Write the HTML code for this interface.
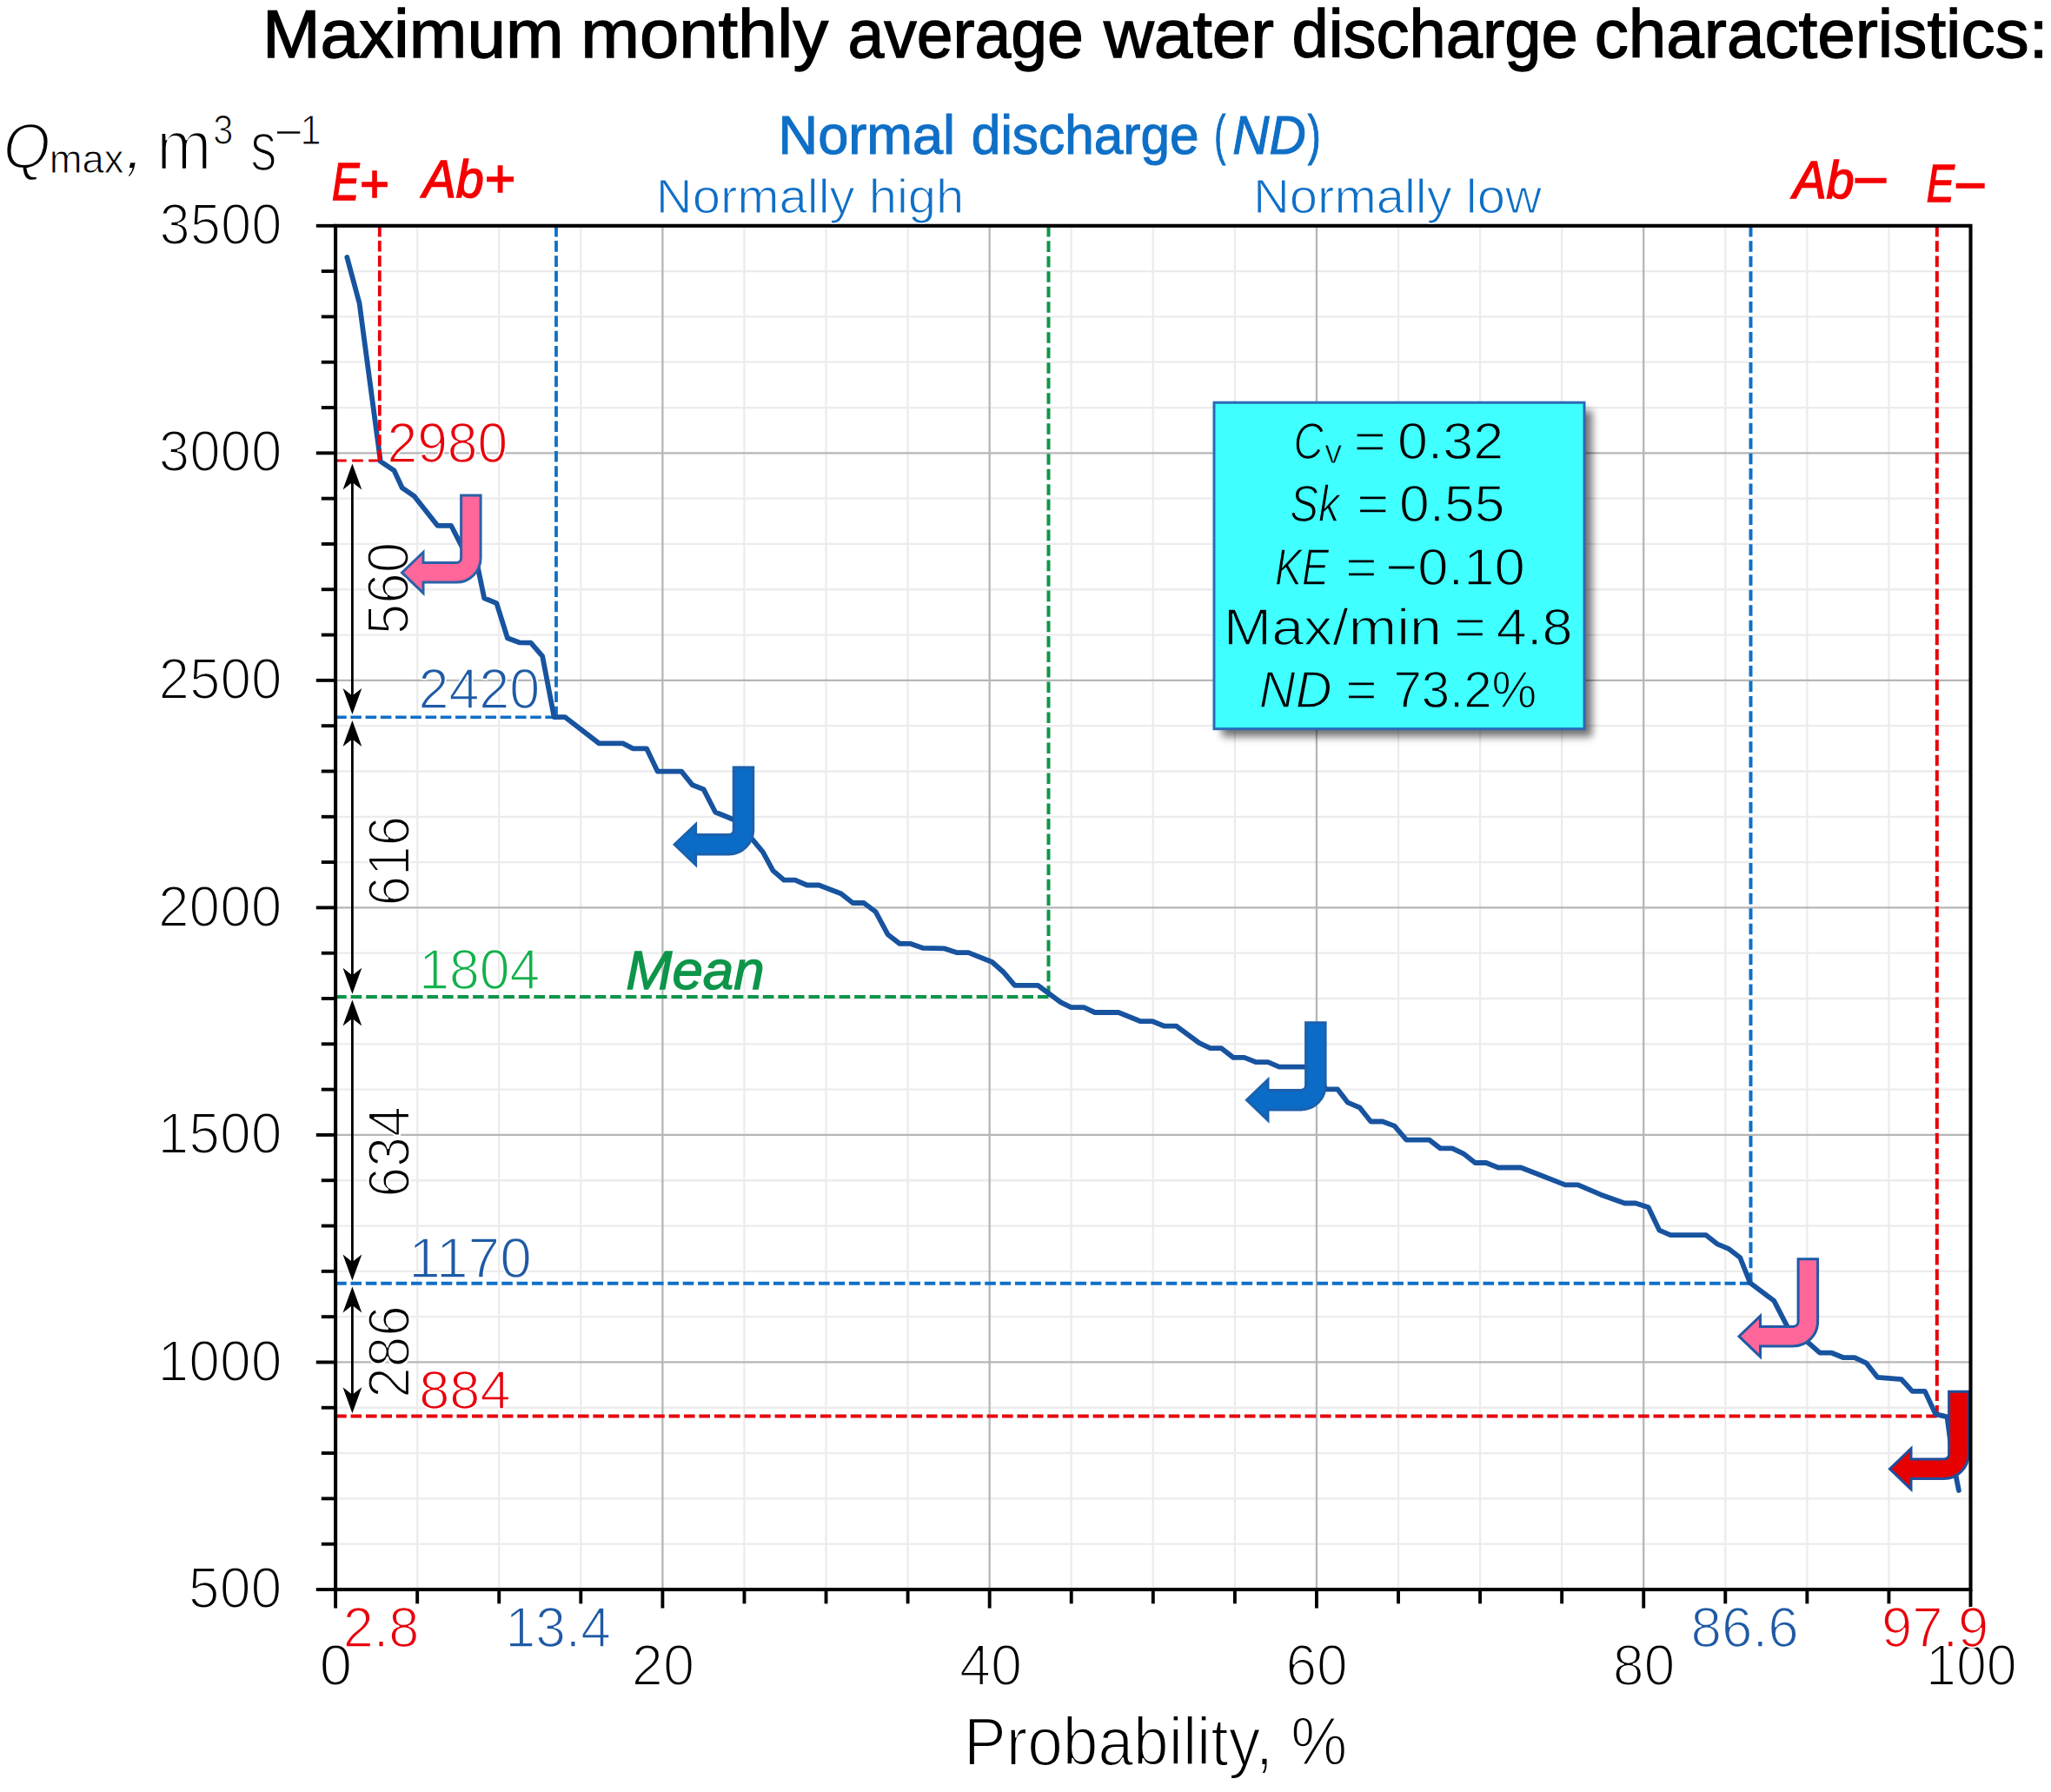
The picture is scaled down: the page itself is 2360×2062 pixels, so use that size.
<!DOCTYPE html>
<html lang="en"><head><meta charset="utf-8"><title>Maximum monthly average water discharge characteristics</title>
<style>
html,body{margin:0;padding:0;background:#fff}
svg{display:block}
text{font-family:"Liberation Sans",sans-serif;white-space:pre}
</style></head><body>
<svg width="2360" height="2062" viewBox="0 0 2360 2062">
<defs><filter id="sh" x="-10%" y="-10%" width="120%" height="120%"><feGaussianBlur stdDeviation="5"/></filter></defs>
<rect width="2360" height="2062" fill="#fff"/>
<g id="grid">
<line x1="480.17" y1="259.8" x2="480.17" y2="1829.0" stroke="#ececec" stroke-width="2.3"/>
<line x1="574.24" y1="259.8" x2="574.24" y2="1829.0" stroke="#ececec" stroke-width="2.3"/>
<line x1="668.31" y1="259.8" x2="668.31" y2="1829.0" stroke="#ececec" stroke-width="2.3"/>
<line x1="856.45" y1="259.8" x2="856.45" y2="1829.0" stroke="#ececec" stroke-width="2.3"/>
<line x1="950.52" y1="259.8" x2="950.52" y2="1829.0" stroke="#ececec" stroke-width="2.3"/>
<line x1="1044.59" y1="259.8" x2="1044.59" y2="1829.0" stroke="#ececec" stroke-width="2.3"/>
<line x1="1232.73" y1="259.8" x2="1232.73" y2="1829.0" stroke="#ececec" stroke-width="2.3"/>
<line x1="1326.80" y1="259.8" x2="1326.80" y2="1829.0" stroke="#ececec" stroke-width="2.3"/>
<line x1="1420.87" y1="259.8" x2="1420.87" y2="1829.0" stroke="#ececec" stroke-width="2.3"/>
<line x1="1609.01" y1="259.8" x2="1609.01" y2="1829.0" stroke="#ececec" stroke-width="2.3"/>
<line x1="1703.08" y1="259.8" x2="1703.08" y2="1829.0" stroke="#ececec" stroke-width="2.3"/>
<line x1="1797.15" y1="259.8" x2="1797.15" y2="1829.0" stroke="#ececec" stroke-width="2.3"/>
<line x1="1985.29" y1="259.8" x2="1985.29" y2="1829.0" stroke="#ececec" stroke-width="2.3"/>
<line x1="2079.36" y1="259.8" x2="2079.36" y2="1829.0" stroke="#ececec" stroke-width="2.3"/>
<line x1="2173.43" y1="259.8" x2="2173.43" y2="1829.0" stroke="#ececec" stroke-width="2.3"/>
<line x1="386.1" y1="1776.69" x2="2267.5" y2="1776.69" stroke="#ececec" stroke-width="2.3"/>
<line x1="386.1" y1="1724.39" x2="2267.5" y2="1724.39" stroke="#ececec" stroke-width="2.3"/>
<line x1="386.1" y1="1672.08" x2="2267.5" y2="1672.08" stroke="#ececec" stroke-width="2.3"/>
<line x1="386.1" y1="1619.77" x2="2267.5" y2="1619.77" stroke="#ececec" stroke-width="2.3"/>
<line x1="386.1" y1="1515.16" x2="2267.5" y2="1515.16" stroke="#ececec" stroke-width="2.3"/>
<line x1="386.1" y1="1462.85" x2="2267.5" y2="1462.85" stroke="#ececec" stroke-width="2.3"/>
<line x1="386.1" y1="1410.55" x2="2267.5" y2="1410.55" stroke="#ececec" stroke-width="2.3"/>
<line x1="386.1" y1="1358.24" x2="2267.5" y2="1358.24" stroke="#ececec" stroke-width="2.3"/>
<line x1="386.1" y1="1253.63" x2="2267.5" y2="1253.63" stroke="#ececec" stroke-width="2.3"/>
<line x1="386.1" y1="1201.32" x2="2267.5" y2="1201.32" stroke="#ececec" stroke-width="2.3"/>
<line x1="386.1" y1="1149.01" x2="2267.5" y2="1149.01" stroke="#ececec" stroke-width="2.3"/>
<line x1="386.1" y1="1096.71" x2="2267.5" y2="1096.71" stroke="#ececec" stroke-width="2.3"/>
<line x1="386.1" y1="992.09" x2="2267.5" y2="992.09" stroke="#ececec" stroke-width="2.3"/>
<line x1="386.1" y1="939.79" x2="2267.5" y2="939.79" stroke="#ececec" stroke-width="2.3"/>
<line x1="386.1" y1="887.48" x2="2267.5" y2="887.48" stroke="#ececec" stroke-width="2.3"/>
<line x1="386.1" y1="835.17" x2="2267.5" y2="835.17" stroke="#ececec" stroke-width="2.3"/>
<line x1="386.1" y1="730.56" x2="2267.5" y2="730.56" stroke="#ececec" stroke-width="2.3"/>
<line x1="386.1" y1="678.25" x2="2267.5" y2="678.25" stroke="#ececec" stroke-width="2.3"/>
<line x1="386.1" y1="625.95" x2="2267.5" y2="625.95" stroke="#ececec" stroke-width="2.3"/>
<line x1="386.1" y1="573.64" x2="2267.5" y2="573.64" stroke="#ececec" stroke-width="2.3"/>
<line x1="386.1" y1="469.03" x2="2267.5" y2="469.03" stroke="#ececec" stroke-width="2.3"/>
<line x1="386.1" y1="416.72" x2="2267.5" y2="416.72" stroke="#ececec" stroke-width="2.3"/>
<line x1="386.1" y1="364.41" x2="2267.5" y2="364.41" stroke="#ececec" stroke-width="2.3"/>
<line x1="386.1" y1="312.11" x2="2267.5" y2="312.11" stroke="#ececec" stroke-width="2.3"/>
<line x1="762.38" y1="259.8" x2="762.38" y2="1829.0" stroke="#b6b6b6" stroke-width="2.3"/>
<line x1="1138.66" y1="259.8" x2="1138.66" y2="1829.0" stroke="#b6b6b6" stroke-width="2.3"/>
<line x1="1514.94" y1="259.8" x2="1514.94" y2="1829.0" stroke="#b6b6b6" stroke-width="2.3"/>
<line x1="1891.22" y1="259.8" x2="1891.22" y2="1829.0" stroke="#b6b6b6" stroke-width="2.3"/>
<line x1="386.1" y1="1567.47" x2="2267.5" y2="1567.47" stroke="#b6b6b6" stroke-width="2.3"/>
<line x1="386.1" y1="1305.93" x2="2267.5" y2="1305.93" stroke="#b6b6b6" stroke-width="2.3"/>
<line x1="386.1" y1="1044.40" x2="2267.5" y2="1044.40" stroke="#b6b6b6" stroke-width="2.3"/>
<line x1="386.1" y1="782.87" x2="2267.5" y2="782.87" stroke="#b6b6b6" stroke-width="2.3"/>
<line x1="386.1" y1="521.33" x2="2267.5" y2="521.33" stroke="#b6b6b6" stroke-width="2.3"/>
</g>
<g id="box">
<rect x="1397.0" y="463.2" width="426.0" height="375.50000000000006" fill="#000" opacity="0.55" filter="url(#sh)" transform="translate(9,9)"/>
<rect x="1397.0" y="463.2" width="426.0" height="375.50000000000006" fill="#40ffff" stroke="#2a6ab5" stroke-width="3"/>
<text x="1488.50" y="528.19" font-size="60.0" fill="#000" textLength="34.24" lengthAdjust="spacingAndGlyphs" font-style="italic" stroke="#40ffff" stroke-width="1.38">C</text>
<text x="1524.26" y="532.84" font-size="38.3" fill="#000" textLength="20.08" lengthAdjust="spacingAndGlyphs" stroke="#40ffff" stroke-width="0.88">v</text>
<text x="1557.89" y="528.19" font-size="60.0" fill="#000" textLength="37.11" lengthAdjust="spacingAndGlyphs" stroke="#40ffff" stroke-width="1.38">=</text>
<text x="1607.96" y="528.19" font-size="60.0" fill="#000" textLength="122.20" lengthAdjust="spacingAndGlyphs" stroke="#40ffff" stroke-width="1.38">0.32</text>
<text x="1484.26" y="599.99" font-size="60.0" fill="#000" textLength="57.32" lengthAdjust="spacingAndGlyphs" font-style="italic" stroke="#40ffff" stroke-width="1.38">Sk</text>
<text x="1561.30" y="599.99" font-size="60.0" fill="#000" textLength="36.99" lengthAdjust="spacingAndGlyphs" stroke="#40ffff" stroke-width="1.38">=</text>
<text x="1609.97" y="599.99" font-size="60.0" fill="#000" textLength="121.50" lengthAdjust="spacingAndGlyphs" stroke="#40ffff" stroke-width="1.38">0.55</text>
<text x="1466.91" y="672.69" font-size="60.0" fill="#000" textLength="62.27" lengthAdjust="spacingAndGlyphs" font-style="italic" stroke="#40ffff" stroke-width="1.38">KE</text>
<text x="1548.35" y="672.69" font-size="60.0" fill="#000" textLength="36.39" lengthAdjust="spacingAndGlyphs" stroke="#40ffff" stroke-width="1.38">=</text>
<text x="1594.30" y="672.69" font-size="60.0" fill="#000" textLength="160.49" lengthAdjust="spacingAndGlyphs" stroke="#40ffff" stroke-width="1.38">−0.10</text>
<text x="1407.79" y="742.49" font-size="60.0" fill="#000" textLength="251.11" lengthAdjust="spacingAndGlyphs" stroke="#40ffff" stroke-width="1.38">Max/min</text>
<text x="1673.35" y="742.49" font-size="60.0" fill="#000" textLength="36.39" lengthAdjust="spacingAndGlyphs" stroke="#40ffff" stroke-width="1.38">=</text>
<text x="1721.89" y="742.49" font-size="60.0" fill="#000" textLength="87.53" lengthAdjust="spacingAndGlyphs" stroke="#40ffff" stroke-width="1.38">4.8</text>
<text x="1448.87" y="813.99" font-size="60.0" fill="#000" textLength="83.66" lengthAdjust="spacingAndGlyphs" font-style="italic" stroke="#40ffff" stroke-width="1.38">ND</text>
<text x="1548.35" y="813.99" font-size="60.0" fill="#000" textLength="36.39" lengthAdjust="spacingAndGlyphs" stroke="#40ffff" stroke-width="1.38">=</text>
<text x="1603.40" y="813.99" font-size="60.0" fill="#000" textLength="164.91" lengthAdjust="spacingAndGlyphs" stroke="#40ffff" stroke-width="1.38">73.2%</text>
</g>
<g id="dashes">
<line x1="386.10" y1="530.00" x2="436.80" y2="530.00" stroke="#e8000c" stroke-width="3" stroke-dasharray="12.6 6.450"/>
<line x1="640.00" y1="259.80" x2="640.00" y2="825.30" stroke="#0f6fc6" stroke-width="3.8" stroke-dasharray="12.6 4.678"/>
<line x1="386.10" y1="825.30" x2="640.00" y2="825.30" stroke="#0f6fc6" stroke-width="3.5" stroke-dasharray="12.6 4.636"/>
<line x1="1206.50" y1="259.80" x2="1206.50" y2="1146.90" stroke="#0e9549" stroke-width="4" stroke-dasharray="12.6 4.890"/>
<line x1="386.10" y1="1146.90" x2="1206.50" y2="1146.90" stroke="#0e9549" stroke-width="4" stroke-dasharray="12.6 4.961"/>
<line x1="2014.50" y1="259.80" x2="2014.50" y2="1476.80" stroke="#0f6fc6" stroke-width="4" stroke-dasharray="12.6 4.855"/>
<line x1="386.10" y1="1476.80" x2="2014.50" y2="1476.80" stroke="#0f6fc6" stroke-width="4" stroke-dasharray="12.6 4.774"/>
<line x1="2228.80" y1="259.80" x2="2228.80" y2="1629.50" stroke="#e8000c" stroke-width="4" stroke-dasharray="12.6 4.799"/>
<line x1="386.10" y1="1629.50" x2="2228.80" y2="1629.50" stroke="#e8000c" stroke-width="4" stroke-dasharray="12.6 4.830"/>
</g>
<g id="curve">
<polyline fill="none" stroke="#17539f" stroke-width="5.8" stroke-linejoin="round" stroke-linecap="round" points="399.3,296.0 413.5,348.7 437.8,530.8 453.4,541.3 462.8,561.4 476.9,571.2 503.4,604.8 519.1,604.8 532.0,630.0 549.7,652.3 557.2,688.3 571.4,694.1 584.0,734.3 597.4,739.3 610.8,739.7 624.2,755.2 637.6,825.2 650.3,825.2 689.3,855.4 716.7,855.4 728.4,861.3 744.0,861.3 756.7,887.7 784.1,887.7 796.8,903.3 809.5,908.2 823.1,934.5 844.6,943.3 864.1,963.8 877.8,980.4 889.5,1001.9 902.2,1012.7 914.9,1012.7 928.6,1018.5 942.3,1018.5 967.7,1028.3 981.3,1039.0 994.0,1039.0 1007.7,1049.3 1021.5,1075.2 1035.2,1085.9 1047.9,1085.9 1061.5,1090.8 1086.9,1091.4 1100.6,1096.1 1114.3,1096.1 1141.6,1107.0 1154.3,1118.2 1167.6,1133.8 1194.3,1133.8 1220.7,1153.3 1232.4,1159.2 1247.1,1159.2 1259.8,1165.0 1287.1,1165.0 1312.5,1175.2 1326.2,1175.2 1339.8,1180.7 1353.5,1180.7 1379.9,1200.2 1392.6,1206.1 1405.4,1206.2 1419.1,1216.9 1431.8,1216.9 1445.4,1222.2 1459.1,1222.2 1471.8,1227.7 1512.0,1227.7 1525.5,1253.4 1539.2,1253.4 1550.9,1268.7 1564.6,1274.5 1577.3,1290.5 1590.9,1290.5 1604.6,1295.6 1618.3,1311.6 1644.6,1311.6 1657.3,1321.4 1671.0,1321.4 1683.7,1327.3 1697.4,1338.0 1710.1,1338.0 1723.8,1343.5 1750.1,1343.5 1801.0,1363.4 1815.7,1363.4 1842.0,1374.7 1869.4,1384.5 1882.1,1384.5 1896.7,1389.3 1909.4,1415.7 1922.1,1421.2 1963.1,1421.2 1975.8,1431.3 1989.5,1437.2 2002.2,1447.0 2013.9,1476.3 2041.3,1496.8 2056.9,1527.0 2080.3,1544.6 2094.0,1556.7 2107.7,1556.7 2121.3,1562.2 2134.0,1562.2 2147.3,1568.3 2160.3,1584.8 2188.0,1587.2 2200.4,1600.9 2214.9,1600.9 2227.1,1627.1 2240.5,1630.4 2247.0,1680.0 2253.9,1715.0"/>
</g>
<g id="dashes2">
<line x1="436.80" y1="259.80" x2="436.80" y2="530.00" stroke="#e8000c" stroke-width="3.8" stroke-dasharray="12.6 4.573"/>
</g>
<g id="arrows">
<path transform="translate(530.6,570.0)" d="M0,0 H22.5 V72 A28.1,28.1 0 0 1 -5.6,100.1 H-43.6 V112.4 L-68.1,88.9 L-43.6,65.5 V77.6 H-5.6 A5.6,5.6 0 0 0 0,72 Z" fill="#ff6699" stroke="#2a62a8" stroke-width="3" stroke-linejoin="miter"/>
<path transform="translate(844.2,882.9)" d="M0,0 H22.5 V72 A28.1,28.1 0 0 1 -5.6,100.1 H-43.6 V112.4 L-68.1,88.9 L-43.6,65.5 V77.6 H-5.6 A5.6,5.6 0 0 0 0,72 Z" fill="#0a6cc6" stroke="#1c60ad" stroke-width="3" stroke-linejoin="miter"/>
<path transform="translate(1502.6,1176.8)" d="M0,0 H22.5 V72 A28.1,28.1 0 0 1 -5.6,100.1 H-43.6 V112.4 L-68.1,88.9 L-43.6,65.5 V77.6 H-5.6 A5.6,5.6 0 0 0 0,72 Z" fill="#0a6cc6" stroke="#1c60ad" stroke-width="3" stroke-linejoin="miter"/>
<path transform="translate(2069.1,1448.8)" d="M0,0 H22.5 V72 A28.1,28.1 0 0 1 -5.6,100.1 H-43.6 V112.4 L-68.1,88.9 L-43.6,65.5 V77.6 H-5.6 A5.6,5.6 0 0 0 0,72 Z" fill="#ff6699" stroke="#1f5aa5" stroke-width="3" stroke-linejoin="miter"/>
<path transform="translate(2242.6,1601.3)" d="M0,0 H22.5 V72 A28.1,28.1 0 0 1 -5.6,100.1 H-43.6 V112.4 L-68.1,88.9 L-43.6,65.5 V77.6 H-5.6 A5.6,5.6 0 0 0 0,72 Z" fill="#e60000" stroke="#1f4f9c" stroke-width="3" stroke-linejoin="miter"/>
</g>
<g id="axes">
<rect x="386.1" y="259.8" width="1881.40" height="1569.20" fill="none" stroke="#000" stroke-width="4.1"/>
<line x1="363.8" y1="1829.00" x2="386.1" y2="1829.00" stroke="#000" stroke-width="3.9"/>
<line x1="369.8" y1="1776.69" x2="386.1" y2="1776.69" stroke="#000" stroke-width="3.9"/>
<line x1="369.8" y1="1724.39" x2="386.1" y2="1724.39" stroke="#000" stroke-width="3.9"/>
<line x1="369.8" y1="1672.08" x2="386.1" y2="1672.08" stroke="#000" stroke-width="3.9"/>
<line x1="369.8" y1="1619.77" x2="386.1" y2="1619.77" stroke="#000" stroke-width="3.9"/>
<line x1="363.8" y1="1567.47" x2="386.1" y2="1567.47" stroke="#000" stroke-width="3.9"/>
<line x1="369.8" y1="1515.16" x2="386.1" y2="1515.16" stroke="#000" stroke-width="3.9"/>
<line x1="369.8" y1="1462.85" x2="386.1" y2="1462.85" stroke="#000" stroke-width="3.9"/>
<line x1="369.8" y1="1410.55" x2="386.1" y2="1410.55" stroke="#000" stroke-width="3.9"/>
<line x1="369.8" y1="1358.24" x2="386.1" y2="1358.24" stroke="#000" stroke-width="3.9"/>
<line x1="363.8" y1="1305.93" x2="386.1" y2="1305.93" stroke="#000" stroke-width="3.9"/>
<line x1="369.8" y1="1253.63" x2="386.1" y2="1253.63" stroke="#000" stroke-width="3.9"/>
<line x1="369.8" y1="1201.32" x2="386.1" y2="1201.32" stroke="#000" stroke-width="3.9"/>
<line x1="369.8" y1="1149.01" x2="386.1" y2="1149.01" stroke="#000" stroke-width="3.9"/>
<line x1="369.8" y1="1096.71" x2="386.1" y2="1096.71" stroke="#000" stroke-width="3.9"/>
<line x1="363.8" y1="1044.40" x2="386.1" y2="1044.40" stroke="#000" stroke-width="3.9"/>
<line x1="369.8" y1="992.09" x2="386.1" y2="992.09" stroke="#000" stroke-width="3.9"/>
<line x1="369.8" y1="939.79" x2="386.1" y2="939.79" stroke="#000" stroke-width="3.9"/>
<line x1="369.8" y1="887.48" x2="386.1" y2="887.48" stroke="#000" stroke-width="3.9"/>
<line x1="369.8" y1="835.17" x2="386.1" y2="835.17" stroke="#000" stroke-width="3.9"/>
<line x1="363.8" y1="782.87" x2="386.1" y2="782.87" stroke="#000" stroke-width="3.9"/>
<line x1="369.8" y1="730.56" x2="386.1" y2="730.56" stroke="#000" stroke-width="3.9"/>
<line x1="369.8" y1="678.25" x2="386.1" y2="678.25" stroke="#000" stroke-width="3.9"/>
<line x1="369.8" y1="625.95" x2="386.1" y2="625.95" stroke="#000" stroke-width="3.9"/>
<line x1="369.8" y1="573.64" x2="386.1" y2="573.64" stroke="#000" stroke-width="3.9"/>
<line x1="363.8" y1="521.33" x2="386.1" y2="521.33" stroke="#000" stroke-width="3.9"/>
<line x1="369.8" y1="469.03" x2="386.1" y2="469.03" stroke="#000" stroke-width="3.9"/>
<line x1="369.8" y1="416.72" x2="386.1" y2="416.72" stroke="#000" stroke-width="3.9"/>
<line x1="369.8" y1="364.41" x2="386.1" y2="364.41" stroke="#000" stroke-width="3.9"/>
<line x1="369.8" y1="312.11" x2="386.1" y2="312.11" stroke="#000" stroke-width="3.9"/>
<line x1="363.8" y1="259.80" x2="386.1" y2="259.80" stroke="#000" stroke-width="3.9"/>
<line x1="386.10" y1="1829.0" x2="386.10" y2="1850.5" stroke="#000" stroke-width="3.9"/>
<line x1="480.17" y1="1829.0" x2="480.17" y2="1845.3" stroke="#000" stroke-width="3.9"/>
<line x1="574.24" y1="1829.0" x2="574.24" y2="1845.3" stroke="#000" stroke-width="3.9"/>
<line x1="668.31" y1="1829.0" x2="668.31" y2="1845.3" stroke="#000" stroke-width="3.9"/>
<line x1="762.38" y1="1829.0" x2="762.38" y2="1850.5" stroke="#000" stroke-width="3.9"/>
<line x1="856.45" y1="1829.0" x2="856.45" y2="1845.3" stroke="#000" stroke-width="3.9"/>
<line x1="950.52" y1="1829.0" x2="950.52" y2="1845.3" stroke="#000" stroke-width="3.9"/>
<line x1="1044.59" y1="1829.0" x2="1044.59" y2="1845.3" stroke="#000" stroke-width="3.9"/>
<line x1="1138.66" y1="1829.0" x2="1138.66" y2="1850.5" stroke="#000" stroke-width="3.9"/>
<line x1="1232.73" y1="1829.0" x2="1232.73" y2="1845.3" stroke="#000" stroke-width="3.9"/>
<line x1="1326.80" y1="1829.0" x2="1326.80" y2="1845.3" stroke="#000" stroke-width="3.9"/>
<line x1="1420.87" y1="1829.0" x2="1420.87" y2="1845.3" stroke="#000" stroke-width="3.9"/>
<line x1="1514.94" y1="1829.0" x2="1514.94" y2="1850.5" stroke="#000" stroke-width="3.9"/>
<line x1="1609.01" y1="1829.0" x2="1609.01" y2="1845.3" stroke="#000" stroke-width="3.9"/>
<line x1="1703.08" y1="1829.0" x2="1703.08" y2="1845.3" stroke="#000" stroke-width="3.9"/>
<line x1="1797.15" y1="1829.0" x2="1797.15" y2="1845.3" stroke="#000" stroke-width="3.9"/>
<line x1="1891.22" y1="1829.0" x2="1891.22" y2="1850.5" stroke="#000" stroke-width="3.9"/>
<line x1="1985.29" y1="1829.0" x2="1985.29" y2="1845.3" stroke="#000" stroke-width="3.9"/>
<line x1="2079.36" y1="1829.0" x2="2079.36" y2="1845.3" stroke="#000" stroke-width="3.9"/>
<line x1="2173.43" y1="1829.0" x2="2173.43" y2="1845.3" stroke="#000" stroke-width="3.9"/>
<line x1="2267.50" y1="1829.0" x2="2267.50" y2="1850.5" stroke="#000" stroke-width="3.9"/>
</g>
<g id="dims">
<line x1="405.4" y1="540.0" x2="405.4" y2="815.3" stroke="#000" stroke-width="2.8"/>
<path d="M405.4,533.6 L416.29999999999995,563.6 L405.4,555.1 L394.5,563.6 Z" fill="#000"/>
<path d="M405.4,822.0999999999999 L416.29999999999995,792.0999999999999 L405.4,800.5999999999999 L394.5,792.0999999999999 Z" fill="#000"/>
<line x1="405.4" y1="835.3" x2="405.4" y2="1136.9" stroke="#000" stroke-width="2.8"/>
<path d="M405.4,828.9 L416.29999999999995,858.9 L405.4,850.4 L394.5,858.9 Z" fill="#000"/>
<path d="M405.4,1143.7 L416.29999999999995,1113.7 L405.4,1122.2 L394.5,1113.7 Z" fill="#000"/>
<line x1="405.4" y1="1156.9" x2="405.4" y2="1466.8" stroke="#000" stroke-width="2.8"/>
<path d="M405.4,1150.5 L416.29999999999995,1180.5 L405.4,1172.0 L394.5,1180.5 Z" fill="#000"/>
<path d="M405.4,1473.6 L416.29999999999995,1443.6 L405.4,1452.1 L394.5,1443.6 Z" fill="#000"/>
<line x1="405.4" y1="1486.8" x2="405.4" y2="1619.5" stroke="#000" stroke-width="2.8"/>
<path d="M405.4,1480.3999999999999 L416.29999999999995,1510.3999999999999 L405.4,1501.8999999999999 L394.5,1510.3999999999999 Z" fill="#000"/>
<path d="M405.4,1626.3 L416.29999999999995,1596.3 L405.4,1604.8 L394.5,1596.3 Z" fill="#000"/>
</g>
<g id="labels">
<text x="301.95" y="66.20" font-size="78" fill="#000" textLength="346.58" lengthAdjust="spacingAndGlyphs" stroke="#000" stroke-width="1.3">Maximum</text>
<text x="668.26" y="66.20" font-size="78" fill="#000" textLength="284.81" lengthAdjust="spacingAndGlyphs" stroke="#000" stroke-width="1.3">monthly</text>
<text x="975.46" y="66.20" font-size="78" fill="#000" textLength="271.39" lengthAdjust="spacingAndGlyphs" stroke="#000" stroke-width="1.3">average</text>
<text x="1269.95" y="66.20" font-size="78" fill="#000" textLength="196.03" lengthAdjust="spacingAndGlyphs" stroke="#000" stroke-width="1.3">water</text>
<text x="1486.51" y="66.20" font-size="78" fill="#000" textLength="329.35" lengthAdjust="spacingAndGlyphs" stroke="#000" stroke-width="1.3">discharge</text>
<text x="1834.72" y="66.20" font-size="78" fill="#000" textLength="521.76" lengthAdjust="spacingAndGlyphs" stroke="#000" stroke-width="1.3">characteristics:</text>
<text x="3.75" y="194.13" font-size="74.7" fill="#000" textLength="54.29" lengthAdjust="spacingAndGlyphs" font-style="italic" stroke="#fff" stroke-width="2.46">Q</text>
<text x="56.79" y="198.86" font-size="46.1" fill="#000" textLength="85.79" lengthAdjust="spacingAndGlyphs" stroke="#fff" stroke-width="0.92">max</text>
<text x="143.38" y="193.60" font-size="74" fill="#000" textLength="24.14" lengthAdjust="spacingAndGlyphs" font-style="italic" stroke="#fff" stroke-width="2.2">,</text>
<text x="179.91" y="195.12" font-size="80.2" fill="#000" textLength="63.62" lengthAdjust="spacingAndGlyphs" stroke="#fff" stroke-width="2.65">m</text>
<text x="245.25" y="165.70" font-size="47.8" fill="#000" textLength="23.05" lengthAdjust="spacingAndGlyphs" stroke="#fff" stroke-width="1.19">3</text>
<text x="287.89" y="195.62" font-size="80.2" fill="#000" textLength="30.57" lengthAdjust="spacingAndGlyphs" stroke="#fff" stroke-width="2.65">s</text>
<text x="315.53" y="168.17" font-size="46.8" fill="#000" textLength="33.18" lengthAdjust="spacingAndGlyphs" stroke="#fff" stroke-width="0.94">−</text>
<text x="345.45" y="165.69" font-size="47.2" fill="#000" textLength="24.15" lengthAdjust="spacingAndGlyphs" stroke="#fff" stroke-width="1.18">1</text>
<text x="381.94" y="230.30" font-size="61" fill="#f40000" textLength="31.42" lengthAdjust="spacingAndGlyphs" font-style="italic" stroke="#f40000" stroke-width="1.5">E</text>
<text x="413.32" y="231.90" font-size="61" fill="#f40000" textLength="33.90" lengthAdjust="spacingAndGlyphs" font-style="italic" stroke="#f40000" stroke-width="1.5">+</text>
<text x="486.53" y="226.60" font-size="61" fill="#f40000" textLength="70.34" lengthAdjust="spacingAndGlyphs" font-style="italic" stroke="#f40000" stroke-width="1.5">Ab</text>
<text x="557.06" y="226.10" font-size="61" fill="#f40000" textLength="35.46" lengthAdjust="spacingAndGlyphs" font-style="italic" stroke="#f40000" stroke-width="1.5">+</text>
<text x="2063.13" y="227.60" font-size="61" fill="#f40000" textLength="70.54" lengthAdjust="spacingAndGlyphs" font-style="italic" stroke="#f40000" stroke-width="1.5">Ab</text>
<text x="2130.81" y="227.70" font-size="61" fill="#f40000" textLength="41.45" lengthAdjust="spacingAndGlyphs" font-style="italic" stroke="#f40000" stroke-width="1.5">−</text>
<text x="2216.71" y="232.40" font-size="61" fill="#f40000" textLength="32.04" lengthAdjust="spacingAndGlyphs" font-style="italic" stroke="#f40000" stroke-width="1.5">E</text>
<text x="2247.30" y="233.50" font-size="61" fill="#f40000" textLength="37.85" lengthAdjust="spacingAndGlyphs" font-style="italic" stroke="#f40000" stroke-width="1.5">−</text>
<text x="895.49" y="177.00" font-size="63" fill="#0f6fc6" textLength="203.68" lengthAdjust="spacingAndGlyphs" stroke="#0f6fc6" stroke-width="1.1">Normal</text>
<text x="1117.84" y="177.00" font-size="63" fill="#0f6fc6" textLength="261.74" lengthAdjust="spacingAndGlyphs" stroke="#0f6fc6" stroke-width="1.1">discharge</text>
<text x="1397.19" y="177.00" font-size="63" fill="#0f6fc6" textLength="13.07" lengthAdjust="spacingAndGlyphs" stroke="#0f6fc6" stroke-width="1.1">(</text>
<text x="1418.20" y="177.00" font-size="63" fill="#0f6fc6" textLength="84.42" lengthAdjust="spacingAndGlyphs" font-style="italic" stroke="#0f6fc6" stroke-width="1.1">ND</text>
<text x="1504.63" y="177.00" font-size="63" fill="#0f6fc6" textLength="14.94" lengthAdjust="spacingAndGlyphs" stroke="#0f6fc6" stroke-width="1.1">)</text>
<text x="754.76" y="244.91" font-size="55.0" fill="#0f6fc6" textLength="354.53" lengthAdjust="spacingAndGlyphs" stroke="#fff" stroke-width="1.21">Normally high</text>
<text x="1441.95" y="244.91" font-size="55.0" fill="#0f6fc6" textLength="331.95" lengthAdjust="spacingAndGlyphs" stroke="#fff" stroke-width="1.21">Normally low</text>
<text x="183.53" y="280.90" font-size="66.6" fill="#000" textLength="140.89" lengthAdjust="spacingAndGlyphs" stroke="#fff" stroke-width="2.2">3500</text>
<text x="182.81" y="542.43" font-size="66.6" fill="#000" textLength="141.61" lengthAdjust="spacingAndGlyphs" stroke="#fff" stroke-width="2.2">3000</text>
<text x="182.51" y="803.97" font-size="66.6" fill="#000" textLength="141.92" lengthAdjust="spacingAndGlyphs" stroke="#fff" stroke-width="2.2">2500</text>
<text x="182.00" y="1065.50" font-size="66.6" fill="#000" textLength="142.44" lengthAdjust="spacingAndGlyphs" stroke="#fff" stroke-width="2.2">2000</text>
<text x="181.48" y="1327.03" font-size="66.6" fill="#000" textLength="142.97" lengthAdjust="spacingAndGlyphs" stroke="#fff" stroke-width="2.2">1500</text>
<text x="181.48" y="1588.57" font-size="66.6" fill="#000" textLength="142.97" lengthAdjust="spacingAndGlyphs" stroke="#fff" stroke-width="2.2">1000</text>
<text x="216.82" y="1850.10" font-size="66.6" fill="#000" textLength="107.56" lengthAdjust="spacingAndGlyphs" stroke="#fff" stroke-width="2.2">500</text>
<text x="367.57" y="1939.29" font-size="65.9" fill="#000" textLength="37.74" lengthAdjust="spacingAndGlyphs" stroke="#fff" stroke-width="2.17">0</text>
<text x="726.86" y="1939.29" font-size="65.9" fill="#000" textLength="72.31" lengthAdjust="spacingAndGlyphs" stroke="#fff" stroke-width="2.17">20</text>
<text x="1103.96" y="1939.29" font-size="65.9" fill="#000" textLength="72.11" lengthAdjust="spacingAndGlyphs" stroke="#fff" stroke-width="2.17">40</text>
<text x="1479.40" y="1939.29" font-size="65.9" fill="#000" textLength="71.44" lengthAdjust="spacingAndGlyphs" stroke="#fff" stroke-width="2.17">60</text>
<text x="1855.67" y="1939.29" font-size="65.9" fill="#000" textLength="71.78" lengthAdjust="spacingAndGlyphs" stroke="#fff" stroke-width="2.17">80</text>
<text x="2216.00" y="1939.29" font-size="65.9" fill="#000" textLength="104.80" lengthAdjust="spacingAndGlyphs" stroke="#fff" stroke-width="2.17">100</text>
<text x="394.69" y="1894.76" font-size="63.9" fill="#e8000c" textLength="87.71" lengthAdjust="spacingAndGlyphs" stroke="#fff" stroke-width="1.72">2.8</text>
<text x="581.46" y="1894.76" font-size="63.9" fill="#1f5aa5" textLength="121.40" lengthAdjust="spacingAndGlyphs" stroke="#fff" stroke-width="1.72">13.4</text>
<text x="1945.43" y="1894.76" font-size="63.9" fill="#1f5aa5" textLength="124.23" lengthAdjust="spacingAndGlyphs" stroke="#fff" stroke-width="1.72">86.6</text>
<text x="2164.89" y="1894.76" font-size="63.9" fill="#e8000c" textLength="123.41" lengthAdjust="spacingAndGlyphs" stroke="#fff" stroke-width="1.72">97.9</text>
<text x="1109.08" y="2030.68" font-size="78.1" fill="#000" textLength="441.23" lengthAdjust="spacingAndGlyphs" stroke="#fff" stroke-width="1.95">Probability, %</text>
<text x="445.55" y="531.73" font-size="64.1" fill="#e8000c" textLength="138.66" lengthAdjust="spacingAndGlyphs" stroke="#fff" stroke-width="1.67">2980</text>
<text x="481.42" y="815.24" font-size="64.3" fill="#1f5aa5" textLength="139.91" lengthAdjust="spacingAndGlyphs" stroke="#fff" stroke-width="1.67">2420</text>
<text x="482.17" y="1137.74" font-size="64.5" fill="#14b14c" textLength="139.13" lengthAdjust="spacingAndGlyphs" stroke="#fff" stroke-width="1.68">1804</text>
<text x="470.23" y="1469.83" font-size="64.1" fill="#1f5aa5" textLength="141.61" lengthAdjust="spacingAndGlyphs" stroke="#fff" stroke-width="1.67">1170</text>
<text x="482.20" y="1620.91" font-size="62.3" fill="#e8000c" textLength="105.51" lengthAdjust="spacingAndGlyphs" stroke="#fff" stroke-width="1.62">884</text>
<text x="720.34" y="1138.20" font-size="63.5" fill="#0e9549" textLength="159.42" lengthAdjust="spacingAndGlyphs" font-style="italic" stroke="#0e9549" stroke-width="1.3">Mean</text>
<text x="-3.67" y="0.82" font-size="67.6" fill="#000" textLength="106.54" lengthAdjust="spacingAndGlyphs" stroke="#fff" stroke-width="2.23" transform="translate(469.4,726.7) rotate(-90)">560</text>
<text x="-4.22" y="0.82" font-size="67.6" fill="#000" textLength="103.53" lengthAdjust="spacingAndGlyphs" stroke="#fff" stroke-width="2.23" transform="translate(470,1038.4) rotate(-90)">616</text>
<text x="-4.25" y="0.82" font-size="67.6" fill="#000" textLength="104.76" lengthAdjust="spacingAndGlyphs" stroke="#fff" stroke-width="2.23" transform="translate(470,1373.6) rotate(-90)">634</text>
<text x="-4.31" y="0.82" font-size="67.6" fill="#000" textLength="106.60" lengthAdjust="spacingAndGlyphs" stroke="#fff" stroke-width="2.23" transform="translate(470,1604.4) rotate(-90)">286</text>
</g>
</svg>
</body></html>
